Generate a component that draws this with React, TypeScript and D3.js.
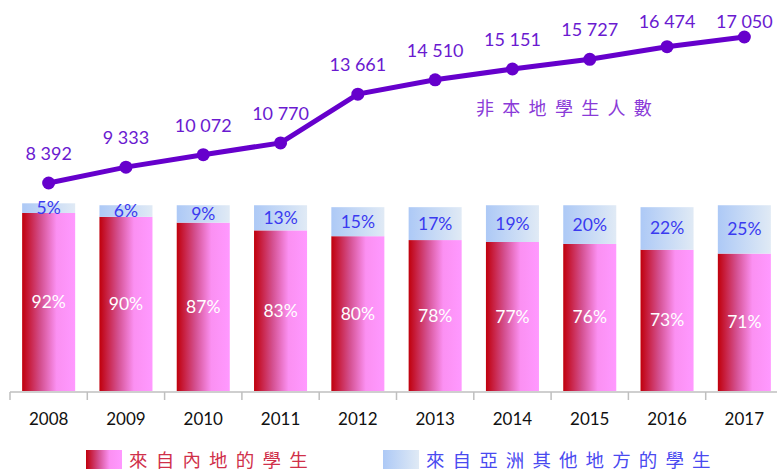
import React, { useRef, useEffect } from "react";
import * as d3 from "d3";

const years = ["2008", "2009", "2010", "2011", "2012", "2013", "2014", "2015", "2016", "2017"];
const mainlandPct = [92, 90, 87, 83, 80, 78, 77, 76, 73, 71];
const asiaPct = [5, 6, 9, 13, 15, 17, 19, 20, 22, 25];
const totalStudents = [8392, 9333, 10072, 10770, 13661, 14510, 15151, 15727, 16474, 17050];

const lineLabel = "非本地學生人數";
const legendLabels = ["來自內地的學生", "來自亞洲其他地方的學生"];

const W = 777;
const H = 471;

const App = () => {
  const svgRef = useRef<SVGSVGElement>(null);

  useEffect(() => {
    const svg = d3.select(svgRef.current);
    svg.selectAll("*").remove();

    const numFont = "Lato, 'Open Sans', sans-serif";
    const cjkFont = "'Noto Sans CJK TC', 'Noto Sans CJK SC', sans-serif";

    const defs = svg.append("defs");
    const red = defs.append("linearGradient").attr("id", "gRed");
    red.append("stop").attr("offset", "0").attr("stop-color", "#c0000c");
    red.append("stop").attr("offset", "0.35").attr("stop-color", "#d45090");
    red.append("stop").attr("offset", "0.65").attr("stop-color", "#fb90f2");
    red.append("stop").attr("offset", "1").attr("stop-color", "#ff99ff");
    const blue = defs.append("linearGradient").attr("id", "gBlue");
    blue.append("stop").attr("offset", "0").attr("stop-color", "#adc9f6");
    blue.append("stop").attr("offset", "1").attr("stop-color", "#e0eaf5");

    const x = d3
      .scaleBand<string>()
      .domain(years)
      .range([10, 783])
      .paddingInner(0.314)
      .paddingOuter(0.157);

    const y = d3.scaleLinear().domain([0, 100]).range([391, 197.5]);

    const yLine = d3
      .scaleLinear()
      .domain([d3.min(totalStudents)!, d3.max(totalStudents)!])
      .range([183, 37]);

    const rows = years.map((yr, i) => ({
      yr,
      main: mainlandPct[i],
      asia: asiaPct[i],
      total: totalStudents[i],
    }));

    // stacked bars
    const bars = svg.append("g");
    bars
      .selectAll("rect.main")
      .data(rows)
      .join("rect")
      .attr("class", "main")
      .attr("x", (d) => x(d.yr)!)
      .attr("width", x.bandwidth())
      .attr("y", (d) => y(d.main))
      .attr("height", (d) => y(0) - y(d.main))
      .attr("fill", "url(#gRed)");

    bars
      .selectAll("rect.asia")
      .data(rows)
      .join("rect")
      .attr("class", "asia")
      .attr("x", (d) => x(d.yr)!)
      .attr("width", x.bandwidth())
      .attr("y", (d) => y(d.main + d.asia))
      .attr("height", (d) => y(d.main) - y(d.main + d.asia))
      .attr("fill", "url(#gBlue)");

    bars
      .selectAll("text.main")
      .data(rows)
      .join("text")
      .attr("class", "main")
      .attr("x", (d) => x(d.yr)! + x.bandwidth() / 2)
      .attr("y", (d) => (y(0) + y(d.main)) / 2 + 6)
      .attr("text-anchor", "middle")
      .attr("font-family", numFont)
      .attr("font-size", 17.5)
      .attr("fill", "white")
      .text((d) => d.main + "%");

    bars
      .selectAll("text.asia")
      .data(rows)
      .join("text")
      .attr("class", "asia")
      .attr("x", (d) => x(d.yr)! + x.bandwidth() / 2)
      .attr("y", (d) => (y(d.main) + y(d.main + d.asia)) / 2 + 6)
      .attr("text-anchor", "middle")
      .attr("font-family", numFont)
      .attr("font-size", 17.5)
      .attr("fill", "#3a3af0")
      .text((d) => d.asia + "%");

    // x axis
    const axis = svg.append("g").attr("stroke", "#bfbfbf").attr("stroke-width", 1.5);
    axis
      .append("line")
      .attr("x1", x.range()[0])
      .attr("x2", x.range()[1])
      .attr("y1", y(0) + 1)
      .attr("y2", y(0) + 1);
    const half = (x.step() * x.paddingInner()) / 2;
    const edges = years.map((yr) => x(yr)! - half).concat([x(years[years.length - 1])! + x.bandwidth() + half]);
    axis
      .selectAll("line.tick")
      .data(edges)
      .join("line")
      .attr("class", "tick")
      .attr("x1", (d) => d)
      .attr("x2", (d) => d)
      .attr("y1", y(0) + 1)
      .attr("y2", y(0) + 9);

    svg
      .append("g")
      .selectAll("text")
      .data(years)
      .join("text")
      .attr("x", (d) => x(d)! + x.bandwidth() / 2)
      .attr("y", 425)
      .attr("text-anchor", "middle")
      .attr("font-family", numFont)
      .attr("font-size", 17)
      .attr("fill", "#111")
      .text((d) => d);

    // line of total non-local students
    const cx = (d: { yr: string }) => x(d.yr)! + x.bandwidth() / 2;
    const line = d3
      .line<(typeof rows)[number]>()
      .x(cx)
      .y((d) => yLine(d.total));

    svg
      .append("path")
      .datum(rows)
      .attr("d", line)
      .attr("fill", "none")
      .attr("stroke", "#6600cc")
      .attr("stroke-width", 5);

    svg
      .append("g")
      .selectAll("circle")
      .data(rows)
      .join("circle")
      .attr("cx", cx)
      .attr("cy", (d) => yLine(d.total))
      .attr("r", 6.5)
      .attr("fill", "#6600cc");

    const fmt = (v: number) => d3.format(",")(v).replace(",", " ");
    svg
      .append("g")
      .selectAll("text")
      .data(rows)
      .join("text")
      .attr("x", cx)
      .attr("y", (d) => Math.max(yLine(d.total) - 23, 28))
      .attr("text-anchor", "middle")
      .attr("font-family", numFont)
      .attr("font-size", 18)
      .attr("fill", "#6a1ad0")
      .text((d) => fmt(d.total));

    svg
      .append("text")
      .attr("x", 476)
      .attr("y", 115)
      .attr("font-family", cjkFont)
      .attr("font-size", 18)
      .attr("letter-spacing", 8.3)
      .attr("fill", "#8a3ad8")
      .text(lineLabel);

    // legend
    const legend = svg.append("g");
    const items = [
      { label: legendLabels[0], x: 86, fill: "url(#gRed)", color: "#d0304a", spacing: 8.2 },
      { label: legendLabels[1], x: 383, fill: "url(#gBlue)", color: "#4a4af0", spacing: 8.1 },
    ];
    items.forEach((it) => {
      legend
        .append("rect")
        .attr("x", it.x)
        .attr("y", 450)
        .attr("width", 36)
        .attr("height", 19)
        .attr("fill", it.fill);
      legend
        .append("text")
        .attr("x", it.x + 43)
        .attr("y", 467)
        .attr("font-family", cjkFont)
        .attr("font-size", 18.5)
        .attr("letter-spacing", it.spacing)
        .attr("fill", it.color)
        .text(it.label);
    });
  }, []);

  return (
    <svg
      ref={svgRef}
      width={W}
      height={H}
      style={{ position: "absolute", left: 0, top: 0, background: "white" }}
    />
  );
};

export default App;
